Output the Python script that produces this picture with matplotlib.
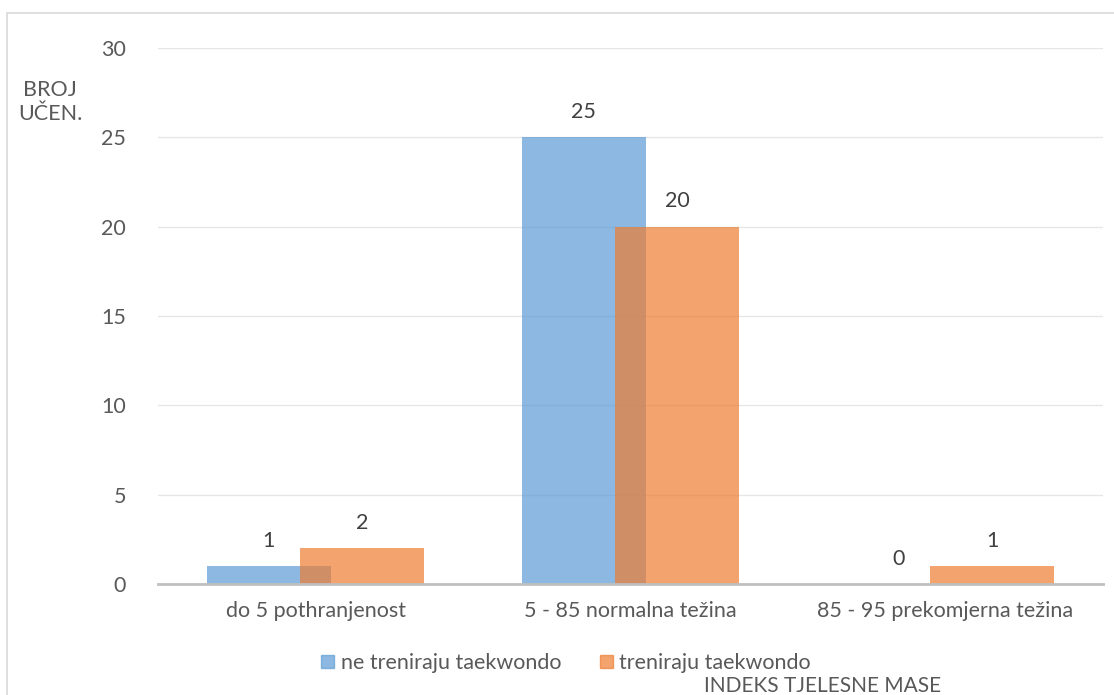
import matplotlib.pyplot as plt
import numpy as np
from matplotlib.patches import Rectangle, Patch

plt.rcParams['font.family'] = ['Lato', 'DejaVu Sans']

categories = ['do 5 pothranjenost', '5 - 85 normalna težina', '85 - 95 prekomjerna težina']
ne_treniraju = [1, 25, 0]
treniraju = [2, 20, 1]
series_names = ['ne treniraju taekwondo', 'treniraju taekwondo']
yticks = [0, 5, 10, 15, 20, 25, 30]

# excel-ish colours, drawn semi transparent
blue = '#5B9BD5'
orange = '#ED7D31'
a = 0.7
text_col = '#595959'
fs = 15.5

fig = plt.figure(figsize=(11.14, 6.95), dpi=100)
fig.patches.append(Rectangle((7 / 1114, -0.05), 1.1, (695 - 13) / 695 + 0.05,
                             transform=fig.transFigure, fill=False,
                             edgecolor='#d9d9d9', linewidth=1.2))

ax = fig.add_axes([158 / 1114, 1 - 584 / 695, (1103 - 158) / 1114, (584 - 48) / 695])

x = np.arange(len(categories))
w = 0.394
off = 0.148

ax.bar(x - off, ne_treniraju, width=w, color=blue, alpha=a, zorder=2)
ax.bar(x + off, treniraju, width=w, color=orange, alpha=a, zorder=3)

for xi, v in zip(x - off, ne_treniraju):
    ax.text(xi, v + 0.85, str(v), ha='center', va='bottom', fontsize=fs, color='#404040')
for xi, v in zip(x + off, treniraju):
    ax.text(xi, v + 0.85, str(v), ha='center', va='bottom', fontsize=fs, color='#404040')

ax.set_xlim(-0.5, 2.5)
ax.set_ylim(0, 30)
ax.set_yticks(yticks)
ax.set_xticks(x)
ax.set_xticklabels(categories, fontsize=fs, color=text_col)
ax.tick_params(axis='y', length=0, pad=23, labelsize=fs, labelcolor=text_col)
ax.tick_params(axis='x', length=0, pad=12)
ax.grid(axis='y', color='#e6e6e6', linewidth=1, zorder=0)
ax.set_axisbelow(True)
for s in ['top', 'right', 'left']:
    ax.spines[s].set_visible(False)
ax.spines['bottom'].set_color('#bfbfbf')
ax.spines['bottom'].set_linewidth(2)
ax.spines['bottom'].set_zorder(4)

fig.text(50 / 1114, 1 - 102 / 695, 'BROJ\nUČEN.', ha='center', va='center',
         fontsize=fs, color=text_col, linespacing=1.25)

handles = [Patch(color=blue, alpha=a), Patch(color=orange, alpha=a)]
fig.legend(handles, series_names, loc='center', bbox_to_anchor=(566 / 1114, 1 - 663 / 695),
           ncol=2, frameon=False, fontsize=fs, handlelength=0.6, handleheight=0.6,
           handletextpad=0.3, columnspacing=1.8, labelcolor=text_col)

fig.text(823 / 1114, 1 - 686 / 695, 'INDEKS TJELESNE MASE', ha='center', va='center',
         fontsize=15, color=text_col)

fig.savefig('out.png', dpi=100)
